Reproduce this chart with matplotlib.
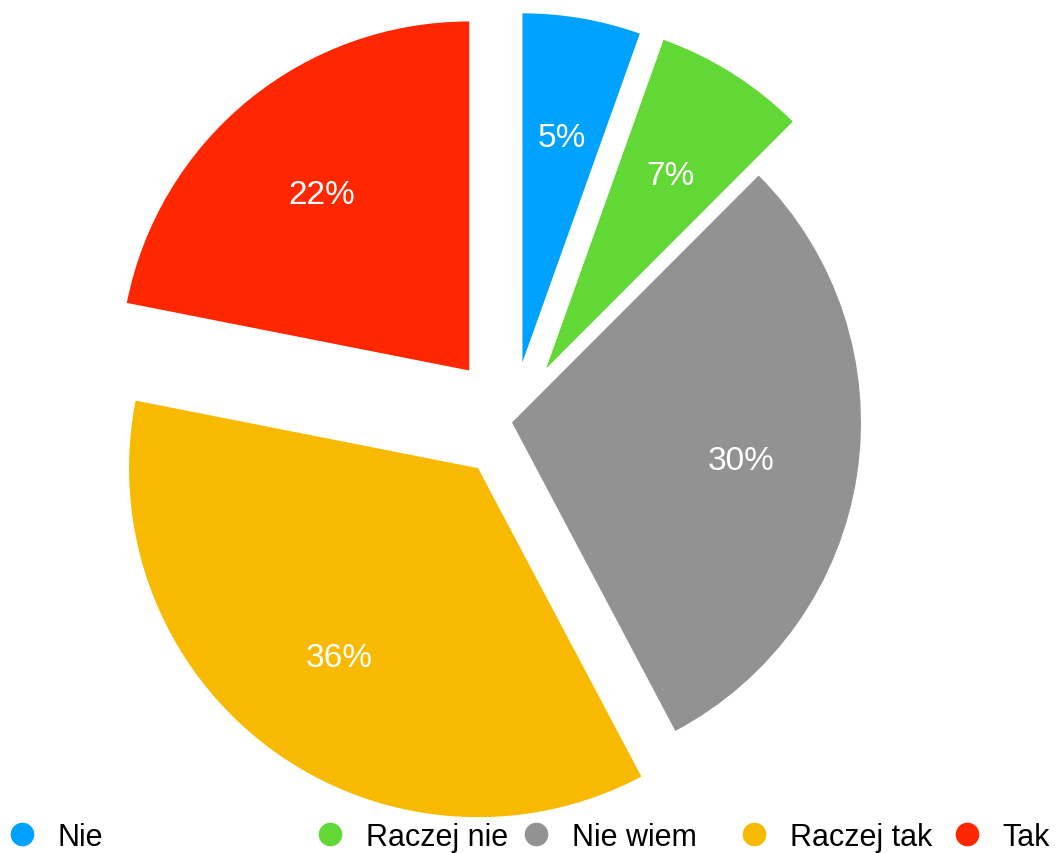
import matplotlib
matplotlib.use("Agg")
import matplotlib.pyplot as plt
from matplotlib.lines import Line2D

categories = ["Nie", "Raczej nie", "Nie wiem", "Raczej tak", "Tak"]
values = [5.46, 7.03, 29.76, 35.85, 21.9]
colors = ["#00A2FF", "#61D836", "#929292", "#F8BA00", "#FF2600"]
explode = [0.175, 0.183, 0.0, 0.163, 0.193]

W, H = 1058, 854
plt.rcParams['font.family'] = ['Liberation Sans', 'DejaVu Sans']
fig = plt.figure(figsize=(W / 100, H / 100), dpi=100)
ax = fig.add_axes([0, 0, 1, 1])

R = 349
center = (512, H - 423.5)
wedges, texts, autotexts = ax.pie(
    values, colors=colors, explode=[e * R for e in explode], startangle=90,
    counterclock=False, radius=R, center=center,
    autopct=lambda p: f"{p:.0f}%", pctdistance=0.665,
    wedgeprops=dict(linewidth=0), textprops=dict(color="white", fontsize=24))
for t in autotexts:
    t.set_verticalalignment("center_baseline")
ax.set_xlim(0, W)
ax.set_ylim(0, H)
ax.set_aspect("equal")
ax.axis("off")

# legend entries placed along bottom
leg_x = [7, 315, 521, 739, 952]
for cat, col, x in zip(categories, colors, leg_x):
    h = Line2D([], [], marker="o", linestyle="none", markersize=17,
               markerfacecolor=col, markeredgewidth=0)
    fig.legend([h], [cat], loc="center left", bbox_to_anchor=(x / W, (H - 838) / H),
               frameon=False, fontsize=22, handlelength=1.0, handletextpad=0.66,
               borderpad=0, borderaxespad=0)

fig.savefig("out.png", dpi=100)
